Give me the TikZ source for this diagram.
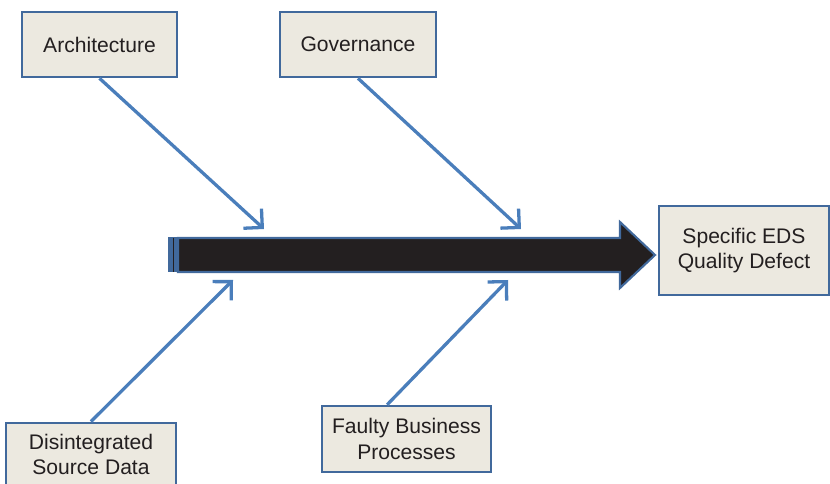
\documentclass[tikz,border=0pt]{standalone}
\usepackage{fontspec}
\setmainfont{Liberation Sans}
\usetikzlibrary{arrows.meta,positioning}
\definecolor{boxfill}{HTML}{ECE9E0}
\definecolor{boxline}{HTML}{41699C}
\definecolor{bone}{HTML}{4A7EBB}
\definecolor{spinefill}{HTML}{231F20}

\begin{document}
\begin{tikzpicture}[x=0.03cm,y=-0.03cm]
\tikzstyle{every node}=[font=\fontsize{18}{22}\selectfont, text=spinefill]
\tikzstyle{cause}=[draw=boxline, fill=boxfill, line width=2.2pt, align=center, inner sep=0pt]
\tikzstyle{bonearrow}=[draw=bone, line width=2.8pt, -{Straight Barb[length=4mm,width=8mm]}]
\useasboundingbox (0,0) rectangle (830,484);
% spine
\draw [fill=spinefill, draw=boxline, line width=1.8pt] (178,238) -- (620,238) -- (620,222) -- (655,255) -- (620,288) -- (620,272) -- (178,272) -- cycle;
\fill [boxline] (168,237.5) rectangle (179,272.5);
\draw [spinefill, line width=0.6pt] (173,238) -- (173,272);
% causes and effect
\node[cause, minimum width=4.65cm, minimum height=1.95cm] (arch) at (99.5,44.5) {Architecture};
\node[cause, minimum width=4.68cm, minimum height=1.95cm] (gov) at (358,44.5) {Governance};
\node[cause, minimum width=5.1cm, minimum height=2.67cm] (defect) at (744,250.5) {Specific EDS \\ Quality Defect};
\node[cause, minimum width=5.1cm, minimum height=1.9cm] (source) at (91,454.5) {Disintegrated \\ Source Data};
\node[cause, minimum width=5.07cm, minimum height=1.98cm] (faulty) at (406.5,439) {Faulty Business \\ Processes};
% bones
\coordinate (archend) at (264,229);
\coordinate (govend) at (521,229);
\coordinate (sourceend) at (233,280);
\coordinate (faultyend) at (508,280);
\draw [bonearrow] (arch.south) -- (archend);
\draw [bonearrow] (gov.south) -- (govend);
\draw [bonearrow] (source.north) -- (sourceend);
\draw [bonearrow] ([xshift=-0.58cm]faulty.north) -- (faultyend);
\end{tikzpicture}
\end{document}
